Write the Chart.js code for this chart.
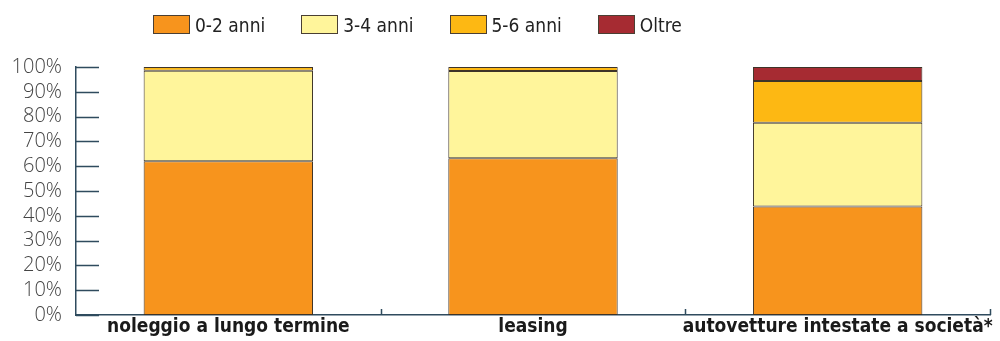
<!DOCTYPE html>
<html>
<head>
<meta charset="utf-8">
<script src="https://cdn.jsdelivr.net/npm/chart.js@4"></script>
<style>
  html, body { margin: 0; padding: 0; background: #fff; }
  #wrap { position: relative; width: 1000px; height: 341px; }
  #legend { position: absolute; left: 153px; top: 12px; font-family: "DejaVu Sans Condensed", "DejaVu Sans", sans-serif; font-size: 19px; color: #222; white-space: nowrap; }
  .item { display: inline-block; margin-right: 36px; vertical-align: middle; }
  .box { display: inline-block; width: 35px; height: 17px; border: 1px solid #4a3f33; vertical-align: -2px; margin-right: 5px; }
</style>
</head>
<body>
<div id="wrap">
  <canvas id="chart" width="1000" height="341"></canvas>
  <div id="legend"></div>
</div>
<script>
const categories = ["noleggio a lungo termine", "leasing", "autovetture intestate a società*"];
const seriesNames = ["0-2 anni", "3-4 anni", "5-6 anni", "Oltre"];
const seriesColors = ["#F7941D", "#FFF59B", "#FDB813", "#A62B32"];
const age02 = [62.0, 63.2, 43.8];
const age34 = [36.5, 35.2, 33.7];
const age56 = [1.5, 1.6, 16.9];
const ageOver = [0, 0, 5.6];
const yTicks = [0, 10, 20, 30, 40, 50, 60, 70, 80, 90, 100];

const seriesValues = [age02, age34, age56, ageOver];
const axisColor = "#2f4b5e";

// inward tick marks on both axes
const innerTicks = {
  id: 'innerTicks',
  afterDraw(chart) {
    const c = chart.ctx, x = chart.scales.x, y = chart.scales.y;
    c.save();
    c.strokeStyle = axisColor;
    c.lineWidth = 1.5;
    c.beginPath();
    yTicks.forEach(v => {
      const py = Math.round(y.getPixelForValue(v)) + 0.5;
      c.moveTo(x.left, py);
      c.lineTo(x.left + 23, py);
    });
    const step = x.getPixelForValue(1) - x.getPixelForValue(0);
    for (let i = 0; i < categories.length; i++) {
      const px = Math.round(x.getPixelForValue(i) + step / 2) + 0.5;
      c.moveTo(px, y.bottom);
      c.lineTo(px, y.bottom - 6);
    }
    c.stroke();
    c.restore();
  }
};

new Chart(document.getElementById('chart'), {
  type: 'bar',
  data: {
    labels: categories,
    datasets: seriesNames.map((name, i) => ({
      label: name,
      data: seriesValues[i],
      backgroundColor: seriesColors[i],
      borderColor: "#3d3328",
      borderWidth: 1,
      borderSkipped: false,
      categoryPercentage: 1,
      barPercentage: 0.556
    }))
  },
  options: {
    responsive: false,
    animation: false,
    layout: { padding: { left: 0, right: 10, top: 67, bottom: 0 } },
    plugins: { legend: { display: false }, tooltip: { enabled: false } },
    scales: {
      x: {
        stacked: true,
        grid: { display: false, drawTicks: false },
        border: { color: axisColor, width: 1.5 },
        ticks: {
          color: "#1a1a1a",
          padding: 1,
          maxRotation: 0,
          autoSkip: false,
          font: { family: "DejaVu Sans Condensed", size: 19, weight: 'bold' }
        },
        afterFit: s => { s.height = 25; }
      },
      y: {
        stacked: true,
        min: 0, max: 100,
        afterBuildTicks: s => { s.ticks = yTicks.map(v => ({ value: v })); },
        grid: { display: false, drawTicks: false },
        border: { color: axisColor, width: 1.5 },
        ticks: {
          color: "#444",
          padding: 14,
          callback: v => v + "%",
          font: { family: "Open Sans", size: 20, weight: 300 }
        },
        afterFit: s => { s.width = 76; }
      }
    }
  },
  plugins: [innerTicks]
});

let legendHTML = "";
seriesNames.forEach((n, i) => {
  legendHTML += `<span class="item"><span class="box" style="background:${seriesColors[i]}"></span>${n}</span>`;
});
document.getElementById('legend').innerHTML = legendHTML;
</script>
</body>
</html>
